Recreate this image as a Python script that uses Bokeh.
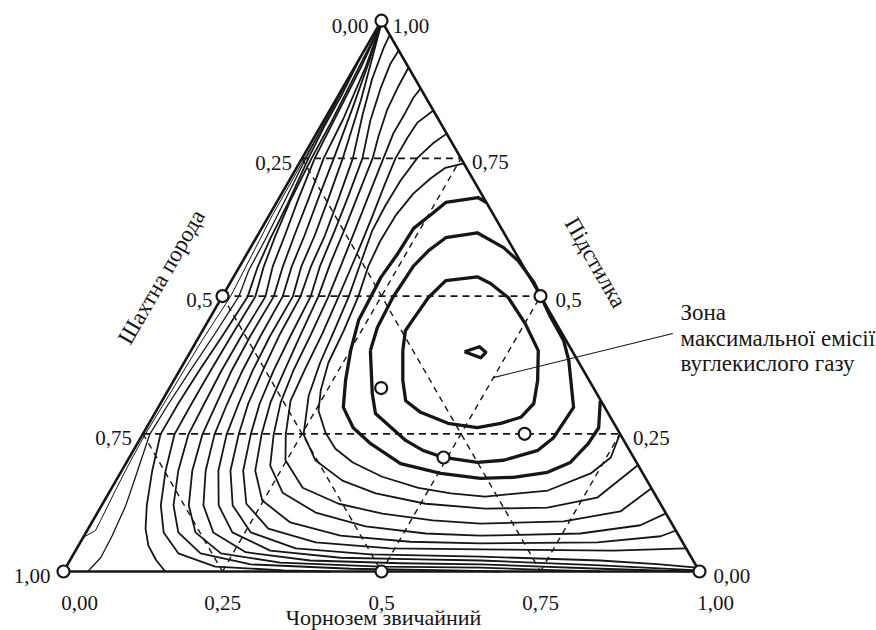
import numpy as np
from bokeh.plotting import figure
from bokeh.models import Range1d
from bokeh.core.properties import value
from bokeh.embed import file_html
from bokeh.resources import INLINE

# ---------------- data (ternary compositions: c = Чорнозем, p = Підстилка) -------------
axis_bottom = "Чорнозем звичайний"
axis_right = "Підстилка"
axis_left = "Шахтна порода"
note_lines = ["Зона", "максимальної емісії", "вуглекислого газу"]

grid_levels = [0.25, 0.5, 0.75]

bottom_tick_c = [0.0, 0.25, 0.5, 0.75, 1.0]
bottom_tick_labels = ["0,00", "0,25", "0,5", "0,75", "1,00"]
right_tick_p = [1.0, 0.75, 0.5, 0.25, 0.0]
right_tick_labels = ["1,00", "0,75", "0,5", "0,25", "0,00"]
left_tick_p = [1.0, 0.75, 0.5, 0.25, 0.0]
left_tick_labels = ["0,00", "0,25", "0,5", "0,75", "1,00"]

node_c = [0.0, 1.0, 0.0, 0.5, 0.5, 0.0]
node_p = [0.0, 0.0, 1.0, 0.0, 0.5, 0.5]
sample_c = [0.333, 0.600, 0.494]
sample_p = [0.333, 0.250, 0.207]

leader_c = [0.500, 0.742]
leader_p = [0.352, 0.432]

# thick isolines
T0_c = [0.431, 0.450, 0.465, 0.462, 0.431]
T0_p = [0.399, 0.408, 0.398, 0.388, 0.399]
T1_c = [0.333, 0.319, 0.321, 0.325, 0.337, 0.383, 0.410, 0.451, 0.501, 0.546, 0.572, 0.587, 0.579, 0.553, 0.520, 0.470, 0.417, 0.383, 0.360, 0.333]
T1_p = [0.401, 0.437, 0.459, 0.497, 0.528, 0.535, 0.523, 0.497, 0.450, 0.401, 0.347, 0.305, 0.280, 0.269, 0.261, 0.269, 0.289, 0.310, 0.347, 0.401]
T2_c = [0.282, 0.272, 0.269, 0.273, 0.283, 0.298, 0.343, 0.398, 0.433, 0.477, 0.503, 0.532, 0.577, 0.603, 0.653, 0.649, 0.636, 0.591, 0.552, 0.494, 0.455, 0.419, 0.347, 0.324, 0.282]
T2_p = [0.401, 0.443, 0.497, 0.555, 0.583, 0.606, 0.615, 0.588, 0.564, 0.525, 0.497, 0.465, 0.419, 0.383, 0.298, 0.243, 0.220, 0.202, 0.198, 0.207, 0.220, 0.238, 0.287, 0.323, 0.401]
T3_c = [0.330, 0.312, 0.266, 0.255, 0.239, 0.237, 0.232, 0.234, 0.236, 0.251, 0.270, 0.291, 0.325, 0.367, 0.432, 0.504, 0.571, 0.622, 0.671, 0.698, 0.709, 0.711, 0.689]
T3_p = [0.670, 0.679, 0.670, 0.650, 0.623, 0.577, 0.534, 0.497, 0.456, 0.401, 0.347, 0.298, 0.261, 0.232, 0.196, 0.178, 0.169, 0.171, 0.180, 0.198, 0.232, 0.261, 0.310]

# thin isolines (right edge to right edge)
U1_c = [0.259, 0.234, 0.220, 0.207, 0.199, 0.198, 0.202, 0.214, 0.222, 0.227, 0.240, 0.255, 0.286, 0.316, 0.356, 0.415, 0.482, 0.538, 0.595, 0.688, 0.740, 0.757, 0.750]
U1_p = [0.741, 0.733, 0.713, 0.686, 0.646, 0.601, 0.555, 0.499, 0.437, 0.379, 0.329, 0.292, 0.252, 0.223, 0.198, 0.172, 0.152, 0.142, 0.136, 0.147, 0.178, 0.207, 0.250]
U2_c = [0.205, 0.192, 0.181, 0.175, 0.174, 0.176, 0.187, 0.199, 0.207, 0.214, 0.226, 0.253, 0.295, 0.356, 0.420, 0.508, 0.606, 0.703, 0.772, 0.806]
U2_p = [0.795, 0.777, 0.751, 0.710, 0.664, 0.619, 0.561, 0.499, 0.437, 0.379, 0.319, 0.249, 0.202, 0.165, 0.142, 0.123, 0.114, 0.116, 0.134, 0.192]
U3_c = [0.163, 0.149, 0.147, 0.147, 0.154, 0.163, 0.171, 0.177, 0.183, 0.191, 0.196, 0.202, 0.225, 0.248, 0.300, 0.371, 0.449, 0.534, 0.612, 0.741, 0.821, 0.849]
U3_p = [0.837, 0.815, 0.788, 0.750, 0.701, 0.646, 0.592, 0.546, 0.499, 0.432, 0.368, 0.310, 0.249, 0.202, 0.152, 0.123, 0.105, 0.093, 0.087, 0.091, 0.109, 0.151]
U4_c = [0.123, 0.120, 0.121, 0.121, 0.128, 0.137, 0.148, 0.158, 0.167, 0.174, 0.179, 0.188, 0.206, 0.229, 0.273, 0.343, 0.434, 0.535, 0.623, 0.778, 0.865, 0.894]
U4_p = [0.877, 0.860, 0.833, 0.795, 0.750, 0.692, 0.623, 0.559, 0.499, 0.428, 0.365, 0.307, 0.249, 0.192, 0.143, 0.107, 0.082, 0.069, 0.065, 0.069, 0.084, 0.105]
U5_c = [0.085, 0.086, 0.090, 0.100, 0.111, 0.121, 0.131, 0.140, 0.151, 0.158, 0.165, 0.172, 0.187, 0.210, 0.248, 0.312, 0.403, 0.518, 0.630, 0.813, 0.907, 0.925]
U5_p = [0.915, 0.882, 0.837, 0.791, 0.750, 0.686, 0.623, 0.559, 0.499, 0.428, 0.365, 0.307, 0.249, 0.183, 0.129, 0.089, 0.065, 0.054, 0.051, 0.053, 0.064, 0.074]
U6_c = [0.054, 0.053, 0.060, 0.073, 0.095, 0.107, 0.117, 0.126, 0.139, 0.143, 0.148, 0.156, 0.170, 0.191, 0.226, 0.283, 0.370, 0.493, 0.636, 0.846, 0.957]
U6_p = [0.946, 0.922, 0.877, 0.819, 0.750, 0.682, 0.619, 0.555, 0.499, 0.428, 0.365, 0.305, 0.249, 0.183, 0.123, 0.078, 0.053, 0.042, 0.040, 0.038, 0.042]
U7_c = [0.026, 0.028, 0.038, 0.056, 0.080, 0.094, 0.106, 0.112, 0.123, 0.125, 0.131, 0.138, 0.151, 0.171, 0.206, 0.259, 0.344, 0.467, 0.642, 0.834, 0.932, 0.992]
U7_p = [0.973, 0.951, 0.895, 0.828, 0.750, 0.677, 0.610, 0.555, 0.499, 0.428, 0.365, 0.305, 0.249, 0.183, 0.120, 0.071, 0.042, 0.031, 0.027, 0.020, 0.013, 0.007]

# thin isolines (top corner to bottom edge)
V1_c = [0.002, 0.018, 0.040, 0.064, 0.078, 0.090, 0.097, 0.111, 0.111, 0.115, 0.123, 0.132, 0.152, 0.184, 0.230, 0.306, 0.423, 0.550, 0.646, 0.839, 0.997]
V1_p = [0.996, 0.937, 0.855, 0.750, 0.677, 0.610, 0.554, 0.499, 0.428, 0.365, 0.305, 0.249, 0.183, 0.120, 0.071, 0.038, 0.025, 0.022, 0.020, 0.011, 0.002]
V2_c = [0.002, 0.018, 0.034, 0.050, 0.062, 0.074, 0.082, 0.095, 0.096, 0.099, 0.105, 0.113, 0.132, 0.160, 0.200, 0.269, 0.378, 0.523, 0.649, 0.842, 0.986]
V2_p = [0.996, 0.924, 0.840, 0.750, 0.677, 0.610, 0.554, 0.499, 0.428, 0.365, 0.305, 0.249, 0.183, 0.120, 0.071, 0.035, 0.020, 0.015, 0.013, 0.005, 0.000]
V3_c = [0.002, 0.017, 0.029, 0.034, 0.047, 0.058, 0.068, 0.081, 0.080, 0.082, 0.088, 0.094, 0.111, 0.137, 0.172, 0.231, 0.333, 0.494, 0.652, 0.781, 0.844]
V3_p = [0.996, 0.917, 0.822, 0.750, 0.677, 0.610, 0.554, 0.499, 0.428, 0.365, 0.305, 0.249, 0.183, 0.120, 0.071, 0.033, 0.016, 0.009, 0.007, 0.002, 0.000]
V4_c = [0.002, 0.010, 0.016, 0.020, 0.031, 0.043, 0.052, 0.068, 0.066, 0.066, 0.069, 0.072, 0.089, 0.113, 0.145, 0.199, 0.288, 0.449, 0.608, 0.687]
V4_p = [0.996, 0.917, 0.815, 0.750, 0.677, 0.610, 0.554, 0.499, 0.428, 0.365, 0.305, 0.249, 0.183, 0.120, 0.071, 0.033, 0.013, 0.005, 0.002, 0.000]
V5_c = [0.002, 0.007, 0.013, 0.015, 0.020, 0.029, 0.038, 0.052, 0.050, 0.049, 0.049, 0.050, 0.069, 0.093, 0.122, 0.164, 0.234, 0.345, 0.420]
V5_p = [0.996, 0.913, 0.815, 0.750, 0.673, 0.606, 0.554, 0.499, 0.428, 0.365, 0.305, 0.249, 0.183, 0.120, 0.071, 0.033, 0.009, 0.002, 0.000]
V6_c = [0.000, 0.005, 0.006, 0.010, 0.019, 0.023, 0.029, 0.040, 0.036, 0.031, 0.028, 0.028, 0.048, 0.071, 0.090, 0.110, 0.136, 0.160]
V6_p = [0.935, 0.864, 0.809, 0.750, 0.664, 0.604, 0.552, 0.499, 0.428, 0.365, 0.305, 0.249, 0.183, 0.120, 0.078, 0.047, 0.020, 0.000]
V7_c = [0.000, 0.003, 0.006, 0.012, 0.016, 0.018, 0.026, 0.022, 0.017, 0.013, 0.011, 0.025, 0.038, 0.044, 0.046, 0.038]
V7_p = [0.888, 0.828, 0.750, 0.664, 0.601, 0.546, 0.499, 0.428, 0.365, 0.305, 0.249, 0.183, 0.120, 0.065, 0.025, 0.000]
H_c = [0.000, 0.003, 0.004, 0.005, 0.013, 0.008, 0.006, 0.004, 0.005, 0.008, 0.012, 0.013, 0.000]
H_p = [0.909, 0.855, 0.755, 0.646, 0.499, 0.419, 0.329, 0.249, 0.202, 0.147, 0.093, 0.074, 0.062]

# ---------------- drawing ----------------
SQ = np.sqrt(3.0) / 2.0


def tern(c, p):
    c = np.asarray(c, dtype=float)
    p = np.asarray(p, dtype=float)
    return c + p / 2.0, p * SQ


W, H = 876, 630
UNIT = 636.0
X0, Y0 = 63.0, 59.0
INK = "#161616"
FONT = value("Liberation Serif")

fig = figure(width=W, height=H, output_backend="svg", toolbar_location=None,
             x_range=Range1d(-X0 / UNIT, (W - X0) / UNIT),
             y_range=Range1d(-Y0 / UNIT, (H - Y0) / UNIT),
             x_axis_location=None, y_axis_location=None, min_border=0)
fig.grid.visible = False
fig.outline_line_color = None
fig.background_fill_color = "white"
fig.border_fill_color = "white"

# dashed grid
hx, hy, dx, dy = [], [], [], []
for L in grid_levels:
    x, y = tern([0.0, 1.0 - L], [L, L])          # constant Підстилка
    hx.append(list(x)); hy.append(list(y))
    x, y = tern([L, L], [0.0, 1.0 - L])          # constant Чорнозем
    dx.append(list(x)); dy.append(list(y))
    x, y = tern([0.0, 1.0 - L], [1.0 - L, 0.0])  # constant Шахтна порода
    dx.append(list(x)); dy.append(list(y))
fig.multi_line(hx, hy, line_color=INK, line_width=1.7, line_dash="7 5")
fig.multi_line(dx, dy, line_color=INK, line_width=1.4, line_dash="6 5")

# isolines
thin = [(U1_c, U1_p), (U2_c, U2_p), (U3_c, U3_p), (U4_c, U4_p), (U5_c, U5_p),
        (U6_c, U6_p), (U7_c, U7_p), (V1_c, V1_p), (V2_c, V2_p), (V3_c, V3_p),
        (V4_c, V4_p), (V5_c, V5_p), (V6_c, V6_p)]
for cc, pp in thin:
    x, y = tern(cc, pp)
    fig.line(x, y, line_color=INK, line_width=1.8, line_join="round")
x, y = tern(V7_c, V7_p)
fig.line(x, y, line_color=INK, line_width=1.3, line_join="round")
x, y = tern(H_c, H_p)
fig.line(x, y, line_color=INK, line_width=1.0, line_join="round")
for cc, pp in [(T0_c, T0_p), (T1_c, T1_p), (T2_c, T2_p), (T3_c, T3_p)]:
    x, y = tern(cc, pp)
    fig.line(x, y, line_color=INK, line_width=3.3, line_join="round")

# triangle
x, y = tern([0, 1, 0, 0], [0, 0, 1, 0])
fig.line(x, y, line_color=INK, line_width=2.6, line_join="miter")

# leader line of the note
x, y = tern(leader_c, leader_p)
fig.line(x, y, line_color=INK, line_width=1.1)

# circles
x, y = tern(node_c + sample_c, node_p + sample_p)
fig.scatter(x, y, marker="circle", size=12, fill_color="white", line_color=INK, line_width=2.2)

# tick labels
x, y = tern(bottom_tick_c, [0.0] * 5)
fig.text(x, y, text=bottom_tick_labels, text_font=FONT, text_font_size="21px", text_color=INK,
         text_align="center", text_baseline="alphabetic",
         x_offset=[16, 0, 0, 0, 16], y_offset=[31] * 5)
x, y = tern([1.0 - v for v in right_tick_p], right_tick_p)
fig.text(x, y, text=right_tick_labels, text_font=FONT, text_font_size="21px", text_color=INK,
         text_align="left", text_baseline="alphabetic",
         x_offset=[11, 11, 15, 13, 14], y_offset=[5, 4, 4, 4, 4])
x, y = tern([0.0] * 5, left_tick_p)
fig.text(x, y, text=left_tick_labels, text_font=FONT, text_font_size="21px", text_color=INK,
         text_align="right", text_baseline="alphabetic",
         x_offset=[-13, -10, -10, -11, -13], y_offset=[5, 5, 4, 4, 4])

# axis titles
x, y = tern([0.5], [0.0])
fig.text(x, y, text=[axis_bottom], text_font=FONT, text_font_size="22px", text_color=INK,
         text_align="center", text_baseline="alphabetic", x_offset=[2], y_offset=[46])
fig.text([0.1541], [0.4631], text=[axis_left], text_font=FONT, text_font_size="23px",
         text_color=INK, text_align="center", text_baseline="middle", angle=np.pi / 3)
fig.text([0.8365], [0.4858], text=[axis_right], text_font=FONT, text_font_size="23px",
         text_color=INK, text_align="center", text_baseline="middle", angle=-np.pi / 3)

# note
fig.text([0.9701] * 3, [0.4072, 0.3664, 0.3270], text=note_lines, text_font=FONT,
         text_font_size="23px", text_color=INK, text_align="left", text_baseline="alphabetic")

open("out.html", "w").write(file_html(fig, INLINE))
